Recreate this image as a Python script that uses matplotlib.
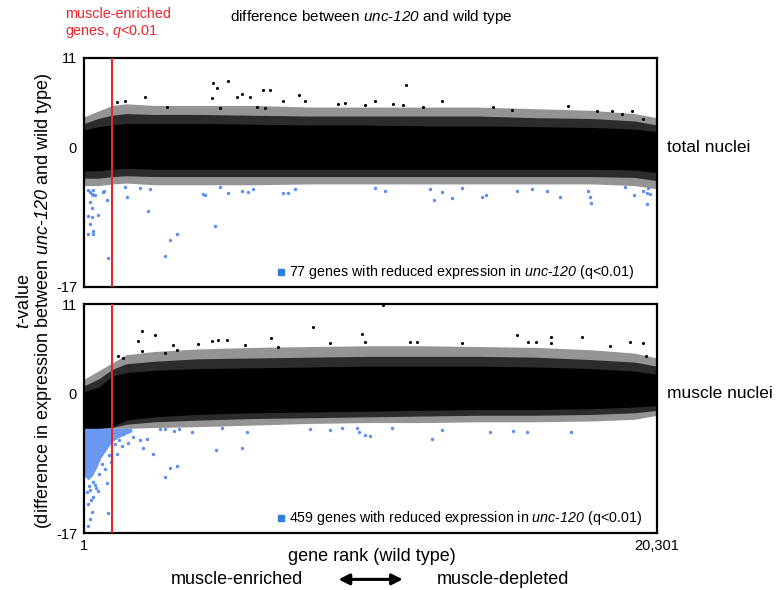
import matplotlib
matplotlib.use('Agg')
import matplotlib.pyplot as plt
from matplotlib.patches import FancyArrowPatch

plt.rcParams['font.family'] = ['Liberation Sans', 'DejaVu Sans']
plt.rcParams['mathtext.fontset'] = 'custom'
plt.rcParams['mathtext.rm'] = 'Liberation Sans'
plt.rcParams['mathtext.it'] = 'Liberation Sans:italic'
plt.rcParams['mathtext.bf'] = 'Liberation Sans:italic'  # used as "italic incl. digits"

# envelope of the dense cloud (gene rank -> t-value)
band_rank = [1, 500, 1000, 1500, 2500, 4000, 6000, 8000, 10000, 12000, 14000, 16000, 18000, 19500, 20301]

top_core_hi = [2.2, 2.6, 2.8, 3.0, 3.0, 3.0, 2.9, 2.8, 2.8, 2.7, 2.7, 2.6, 2.5, 2.3, 2.0]
top_core_lo = [-2.8, -2.8, -2.6, -2.5, -2.6, -2.6, -2.6, -2.6, -2.6, -2.6, -2.6, -2.6, -2.6, -2.7, -3.0]
top_mid_hi = [3.0, 3.6, 4.0, 4.2, 4.1, 4.1, 4.0, 3.9, 3.9, 3.9, 3.9, 3.7, 3.6, 3.3, 2.8]
top_mid_lo = [-3.7, -3.7, -3.5, -3.4, -3.5, -3.5, -3.5, -3.5, -3.5, -3.5, -3.5, -3.5, -3.5, -3.6, -4.0]
top_fringe_hi = [3.8, 4.5, 5.2, 5.4, 5.2, 5.2, 5.2, 5.0, 5.0, 5.0, 5.0, 4.8, 4.6, 4.2, 3.7]
top_fringe_lo = [-4.6, -4.6, -4.4, -4.3, -4.5, -4.5, -4.5, -4.4, -4.4, -4.4, -4.4, -4.4, -4.4, -4.6, -5.0]

bot_core_hi = [0.3, 0.8, 2.2, 2.6, 2.9, 3.1, 3.2, 3.3, 3.4, 3.4, 3.4, 3.3, 3.1, 2.8, 2.4]
bot_core_lo = [-4.2, -4.2, -4.0, -3.2, -2.8, -2.5, -2.3, -2.2, -2.1, -2.0, -1.9, -1.9, -1.8, -1.6, -1.4]
bot_mid_hi = [1.0, 1.8, 3.0, 3.7, 4.0, 4.3, 4.4, 4.5, 4.6, 4.6, 4.6, 4.5, 4.2, 3.9, 3.4]
bot_mid_lo = [-4.2, -4.2, -4.1, -3.7, -3.4, -3.2, -3.0, -2.9, -2.8, -2.7, -2.6, -2.6, -2.5, -2.3, -2.0]
bot_fringe_hi = [1.8, 2.8, 3.8, 4.8, 5.2, 5.5, 5.7, 5.8, 5.9, 5.9, 5.8, 5.7, 5.4, 5.0, 4.4]
bot_fringe_lo = [-4.2, -4.2, -4.2, -4.2, -4.1, -4.0, -3.8, -3.6, -3.5, -3.5, -3.4, -3.4, -3.3, -3.1, -2.6]

# dense blue block (muscle nuclei, reduced genes)
blue_rank = [1, 150, 300, 450, 600, 800, 1000, 1300, 1700]
blue_lo = [-10.0, -10.5, -10.0, -9.0, -7.8, -6.8, -5.8, -5.2, -4.6]
blue_hi = [-4.2, -4.2, -4.2, -4.2, -4.2, -4.2, -4.2, -4.2, -4.2]

# scattered black points above the cloud
top_out_rank = [4580, 5114, 4701, 4524, 4819, 5587, 5410, 5882, 6354, 6590, 6118, 6413, 7040, 7630,
                7830, 2161, 1158, 1454, 2930, 11406, 10310, 9956, 9247, 9010, 10960, 11290, 11998,
                12672, 14502, 15152, 17160, 18164, 18696, 19050, 19404, 19816]
top_out_t = [8.0, 8.2, 7.3, 6.1, 4.9, 6.6, 6.2, 6.2, 7.1, 7.1, 5.0, 4.9, 5.7, 6.5,
             5.7, 6.2, 5.6, 5.8, 5.0, 7.7, 5.7, 5.2, 5.5, 5.4, 5.4, 5.3, 5.0,
             5.7, 5.0, 4.7, 5.1, 4.5, 4.5, 4.2, 4.5, 3.6]

bot_out_rank = [2042, 1926, 2515, 2042, 3165, 3283, 4050, 4524, 4760, 5055, 5705, 6625, 6884, 8125,
                8716, 1215, 1392, 2870, 10605, 9838, 9956, 11554, 11814, 13380, 15329, 15742, 16014,
                16534, 16534, 17630, 19345, 19794, 18637, 19924]
bot_out_t = [7.7, 6.5, 7.2, 5.2, 6.0, 5.4, 6.1, 6.5, 6.6, 6.6, 6.0, 6.8, 5.8, 8.2,
             6.2, 4.6, 4.4, 5.0, 10.9, 7.3, 6.4, 6.4, 6.3, 6.2, 7.2, 6.4, 6.4,
             7.0, 6.2, 7.0, 6.4, 6.2, 5.9, 4.6]

# blue points: genes with reduced expression in unc-120
top_blue_rank = [153, 213, 272, 331, 390, 213, 272, 331, 153, 272, 508, 213, 331, 153, 331, 685, 803,
                 862, 1513, 2278, 2870, 3047, 3283, 4228, 4287, 4642, 4819, 5114, 5587, 5823, 6000,
                 7061, 7240, 7476, 1454, 1985, 2340, 709, 10310, 10665, 12258, 12400, 12672, 13026,
                 13380, 14089, 14242, 15329, 15860, 16392, 16864, 17867, 17926, 17962, 19167, 19486,
                 19816, 19934, 19993, 20052, 19934]
top_blue_t = [-5.2, -5.4, -5.6, -5.2, -5.8, -6.6, -7.3, -5.8, -8.3, -8.5, -8.2, -9.3, -10.1, -10.5, -10.5,
              -5.4, -6.4, -13.4, -6.0, -7.7, -13.2, -11.3, -10.5, -5.6, -5.8, -9.6, -4.8, -5.5, -5.3,
              -5.4, -5.0, -5.5, -5.5, -5.0, -4.8, -4.9, -5.0, -5.3, -4.9, -5.3, -5.0, -6.4, -5.4, -6.1,
              -4.9, -6.0, -5.7, -5.3, -5.0, -5.3, -6.0, -5.3, -6.0, -6.7, -4.8, -5.8, -5.3, -5.5, -4.9,
              -5.6, -6.9]

bot_blue_rank = [2692, 2869, 3189, 3376, 3828, 4677, 5587, 5765, 3047, 3304, 2870, 4878, 1158, 1985,
                 2220, 2456, 2102, 1335, 1571, 1749, 153, 213, 272, 862, 803, 153, 331, 508, 213, 390,
                 100, 170, 250, 330, 420, 520, 640, 760, 880, 950, 1100, 1250, 1400,
                 9128, 9670, 9726, 9956, 10133, 10900, 12316, 12672, 14384, 15211, 15683, 17242,
                 8000, 8700]
bot_blue_t = [-4.3, -4.3, -4.5, -4.3, -4.7, -6.8, -6.6, -4.6, -9.1, -8.8, -10.1, -4.2, -7.3, -5.6,
              -5.5, -7.4, -6.6, -6.4, -6.0, -5.3, -16.2, -15.3, -14.4, -14.6, -10.9, -13.4, -12.6, -11.9,
              -11.7, -11.1, -12.0, -11.2, -13.0, -10.8, -11.5, -9.8, -8.6, -9.2, -7.5, -8.3, -6.1, -5.6, -4.9,
              -4.1, -4.1, -4.6, -5.0, -5.1, -4.1, -5.5, -4.4, -4.7, -4.5, -4.7, -4.6,
              -4.3, -4.4]

n_top_blue = 77
n_bot_blue = 459
red_rank = 1000
n_genes = 20301

blue = '#5b8ef0'
red = '#e8262e'
UNC = r'$\mathbf{unc}$-$\mathbf{120}$'

fig = plt.figure(figsize=(7.77, 5.90), dpi=100)
ax1 = fig.add_axes([0.1081, 0.5136, 0.7375, 0.3881])
ax2 = fig.add_axes([0.1081, 0.0966, 0.7375, 0.3881])

panels = [
    (ax1, top_core_lo, top_core_hi, top_mid_lo, top_mid_hi, top_fringe_lo, top_fringe_hi,
     top_out_rank, top_out_t, top_blue_rank, top_blue_t, n_top_blue, 'total nuclei'),
    (ax2, bot_core_lo, bot_core_hi, bot_mid_lo, bot_mid_hi, bot_fringe_lo, bot_fringe_hi,
     bot_out_rank, bot_out_t, bot_blue_rank, bot_blue_t, n_bot_blue, 'muscle nuclei'),
]

for ax, clo, chi, mlo, mhi, flo, fhi, orank, ot, brank, bt, nb, side in panels:
    # cloud of points drawn as nested bands: sparse edge -> solid core
    ax.fill_between(band_rank, flo, fhi, color='black', alpha=0.42, linewidth=0, zorder=1)
    ax.fill_between(band_rank, mlo, mhi, color='black', alpha=0.7, linewidth=0, zorder=1)
    ax.fill_between(band_rank, clo, chi, color='black', linewidth=0, zorder=2)
    ax.scatter(orank, ot, s=5, color='black', linewidths=0, zorder=3)
    ax.scatter(brank, bt, s=6, color=blue, linewidths=0, zorder=3)
    ax.axvline(red_rank, color=red, lw=1.5, zorder=4)

    ax.set_xlim(1, n_genes)
    ax.set_ylim(-17, 11)
    ax.set_yticks([11, 0, -17])
    ax.set_yticklabels(['11', '0', '-17'])
    ax.tick_params(length=0, labelsize=10.5, pad=5)
    for s in ax.spines.values():
        s.set_linewidth(1.6)

    ax.plot([0.344], [0.066], marker='s', ms=4, color='#2f7fd6', transform=ax.transAxes,
            clip_on=False, zorder=5)
    ax.text(0.358, 0.066, f'{nb} genes with reduced expression in {UNC} (q<0.01)',
            transform=ax.transAxes, fontsize=10.3, va='center', ha='left', zorder=5)
    ax.text(1.018, 17 / 28, side, transform=ax.transAxes, fontsize=12.5, va='center', ha='left')

ax2.fill_between(blue_rank, blue_lo, blue_hi, color=blue, alpha=0.9, linewidth=0, zorder=2)

ax1.set_xticks([])
ax2.set_xticks([1, n_genes])
ax2.set_xticklabels(['1', '20,301'])
ax2.tick_params(axis='x', labelsize=10.5, pad=4)

fig.text(0.478, 0.971, f'difference between {UNC} and wild type',
         ha='center', va='center', fontsize=11)
fig.text(0.084, 0.976, 'muscle-enriched', color=red, ha='left', va='center', fontsize=10.4)
fig.text(0.084, 0.947, r'genes, $\mathbf{q}$<0.01', color=red, ha='left', va='center', fontsize=10.4)

fig.text(0.031, 0.49, r'$\mathbf{t}$-value', rotation=90, ha='center', va='center', fontsize=13)
fig.text(0.056, 0.49, f'(difference in expression between {UNC} and wild type)',
         rotation=90, ha='center', va='center', fontsize=13)

fig.text(0.478, 0.056, 'gene rank (wild type)', ha='center', va='center', fontsize=13)
fig.text(0.305, 0.018, 'muscle-enriched', ha='center', va='center', fontsize=13)
fig.text(0.647, 0.018, 'muscle-depleted', ha='center', va='center', fontsize=13)
fig.patches.append(FancyArrowPatch(
    (0.432, 0.018), (0.522, 0.018), transform=fig.transFigure, arrowstyle='<|-|>',
    mutation_scale=16, lw=2.2, color='black'))

fig.savefig('out.png', dpi=100)
